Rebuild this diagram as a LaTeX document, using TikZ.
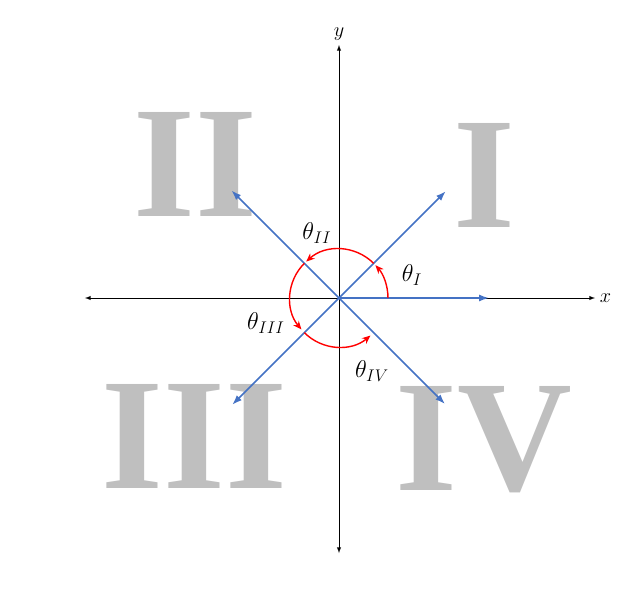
\documentclass[tikz,border=0pt]{standalone}
\usepackage{amsmath}
\usepackage{fontspec}
\newfontfamily\numfont{Liberation Serif}
\usepackage{tikz}
\usetikzlibrary{arrows.meta,arrows}
\usetikzlibrary{positioning}
\tikzset{>=latex}
\definecolor{vecblue}{RGB}{68,114,196}
\definecolor{numgray}{RGB}{191,191,191}
\tikzset{
  quadnum/.style={anchor=base,text=numgray,font=\numfont\bfseries\fontsize{113}{113}\selectfont,inner sep=0pt},
  vecarrow/.style={vecblue,line width=1.2pt,-{Latex[length=7pt,width=5pt]}},
  anglearc/.style={red,line width=1pt,-{Stealth[length=6pt,width=5pt]}},
  anglelab/.style={font=\fontsize{17}{20}\selectfont}
}

\begin{document}
\begin{tikzpicture}[x=0.025cm,y=0.025cm]
\useasboundingbox (-339,-295) rectangle (297,298);

% Quadrant numerals
\node[quadnum] (qI) at (145,71) {I};
\node[quadnum] (qII) at (-143.5,82) {II};
\node[quadnum] (qIII) at (-144.5,-190) {III};
\node[quadnum] (qIV) at (145,-192) {IV};

% Axes
\coordinate (O) at (0,0);
\coordinate (xl) at (-254,0);
\coordinate (xr) at (256,0);
\coordinate (yb) at (0,-255);
\coordinate (yt) at (0,253);
\draw[thin,<->] (xl)--(xr) node[right,font=\fontsize{14}{16}\selectfont] (xlab) {$x$};
\draw[thin,<->] (yb)--(yt) node[above,font=\fontsize{14}{16}\selectfont] (ylab) {$y$};

% Vectors
\draw[vecarrow] (O)--(0:150);
\draw[vecarrow] (O)--(45:151);
\draw[vecarrow] (O)--(135:152);
\draw[vecarrow] (O)--(225:151);
\draw[vecarrow] (O)--(315:150);

% Angles
\draw[anglearc] (0:49) arc (0:42:49);
\draw[anglearc] (45:49) arc (45:132:49);
\draw[anglearc] (135:49) arc (135:220:49);
\draw[anglearc] (225:49) arc (225:310:49);

\node[anglelab] (tI) at (73,23) {$\theta_I$};
\node[anglelab] (tII) at (-22,65) {$\theta_{II}$};
\node[anglelab] (tIII) at (-73,-25) {$\theta_{III}$};
\node[anglelab] (tIV) at (33,-73) {$\theta_{IV}$};

\end{tikzpicture}
\end{document}
